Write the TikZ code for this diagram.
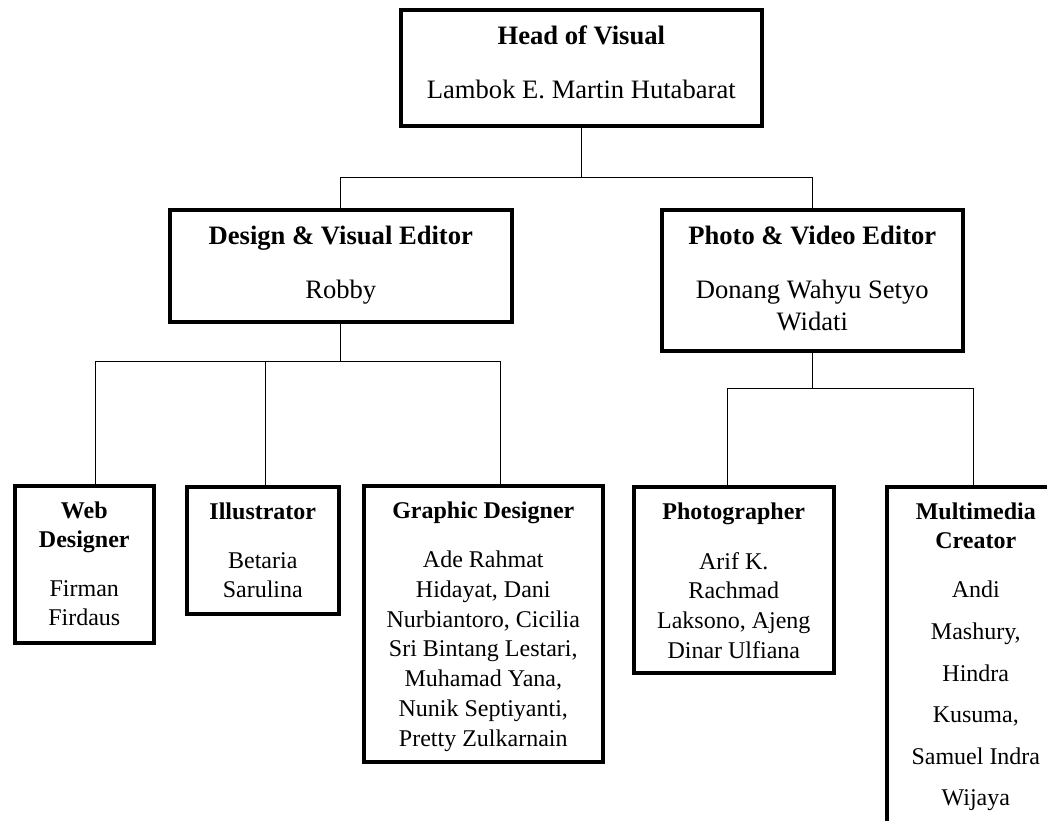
\documentclass[tikz,border=0pt]{standalone}
\usepackage{fontspec}
\setmainfont{Liberation Serif}
\usetikzlibrary{positioning}

\begin{document}
\begin{tikzpicture}[x=0.5pt,y=-0.5pt,line width=0.6pt]
\tikzstyle{box}=[draw=black,line width=1.8pt,anchor=north west,inner sep=0pt]
\tikzstyle{headtitle}=[font=\fontsize{13.3}{16}\selectfont\bfseries,align=center,inner sep=0pt]
\tikzstyle{headnames}=[font=\fontsize{13.3}{16}\selectfont,align=center,inner sep=0pt]
\tikzstyle{roletitle}=[font=\fontsize{12}{14.5}\selectfont\bfseries,align=center,inner sep=0pt]
\tikzstyle{rolenames}=[font=\fontsize{12}{14.85}\selectfont,align=center,inner sep=0pt]

\fill[white] (0,0) rectangle (1047,820);
\useasboundingbox (0,0) rectangle (1047,820);
\clip (0,0) rectangle (1047,820);

% boxes
\node[box,minimum width=180.5pt,minimum height=58pt]	(head)	at (399,8)	{};
\node[box,minimum width=171pt,minimum height=56pt]	(design)	at (168,208)	{};
\node[box,minimum width=150.5pt,minimum height=70.5pt]	(photo)	at (660,208)	{};
\node[box,minimum width=69.5pt,minimum height=78.5pt]	(web)	at (13,484)	{};
\node[box,minimum width=76pt,minimum height=63.5pt]	(illus)	at (185,485)	{};
\node[box,minimum width=119.5pt,minimum height=138pt]	(graphic)	at (362,484)	{};
\node[box,minimum width=100pt,minimum height=93pt]	(photog)	at (632,485)	{};
\node[box,minimum width=89pt,minimum height=182.5pt]	(multi)	at (885,485)	{};

% texts
\node[headtitle]	(headT)	[below=8.8pt of head.north]	{Head of Visual};
\node[headnames]	(headN)	[below=35.9pt of head.north]	{Lambok E. Martin Hutabarat};
\node[headtitle]	(designT)	[below=8.8pt of design.north]	{Design \& Visual Editor};
\node[headnames]	(designN)	[below=35.9pt of design.north]	{Robby};
\node[headtitle]	(photoT)	[below=8.8pt of photo.north]	{Photo \& Video Editor};
\node[headnames]	(photoN)	[below=35.9pt of photo.north]	{Donang Wahyu Setyo\\Widati};

\node[roletitle]	(webT)	[below=8.8pt of web.north]	{Web\\Designer};
\node[rolenames]	(webN)	[below=47.8pt of web.north]	{Firman\\Firdaus};
\node[roletitle]	(illusT)	[below=8.8pt of illus.north]	{Illustrator};
\node[rolenames]	(illusN)	[below=33.3pt of illus.north]	{Betaria\\Sarulina};
\node[roletitle]	(graphicT)	[below=8.8pt of graphic.north]	{Graphic Designer};
\node[rolenames]	(graphicN)	[below=33.3pt of graphic.north]	{Ade Rahmat\\Hidayat, Dani\\Nurbiantoro, Cicilia\\Sri Bintang Lestari,\\Muhamad Yana,\\Nunik Septiyanti,\\Pretty Zulkarnain};
\node[roletitle]	(photogT)	[below=8.8pt of photog.north]	{Photographer};
\node[rolenames]	(photogN)	[below=33.3pt of photog.north]	{Arif K.\\Rachmad\\Laksono, Ajeng\\Dinar Ulfiana};
\node[roletitle]	(multiT)	[below=8.8pt of multi.north]	{Multimedia\\Creator};
\node[rolenames,font=\fontsize{12}{20.8}\selectfont]	(multiN)	[below=47.8pt of multi.north]	{Andi\\Mashury,\\Hindra\\Kusuma,\\Samuel Indra\\Wijaya};

% connectors
\draw (head.south) -- ++(0,50) coordinate (hj);
\draw (hj) -| (design.north);
\draw (hj) -| (photo.north);
\draw (design.south) -- ++(0,38) coordinate (dj);
\draw (dj) -| ([xshift=5.75pt]web.north);
\draw (dj) -| ([xshift=1.5pt]illus.north);
\draw (dj) -| ([xshift=8.75pt]graphic.north);
\draw (photo.south) -- ++(0,36) coordinate (pj);
\draw (pj) -| ([xshift=-3pt]photog.north);
\draw (pj) -| ([xshift=-1pt]multi.north);

\end{tikzpicture}
\end{document}
